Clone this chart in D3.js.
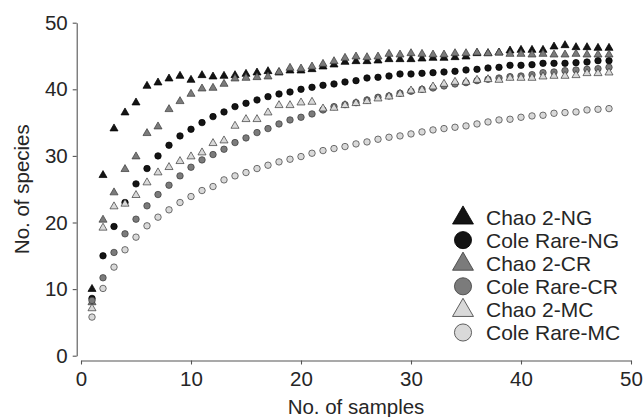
<!DOCTYPE html>
<html>
<head>
<meta charset="utf-8">
<script src="https://cdn.jsdelivr.net/npm/d3@7/dist/d3.min.js"></script>
<style>
  html, body { margin: 0; padding: 0; background: #fff; }
  svg { display: block; font-family: "Liberation Sans", Arial, sans-serif; }
</style>
</head>
<body>
<svg id="chart" width="643" height="417"></svg>
<script>
// Number of pooled samples (1..48)
const samples = d3.range(1, 49);

// Species richness estimates per site and estimator
const chao2NG = [10.0, 27.1, 34.1, 36.5, 38.0, 40.5, 41.0, 41.6, 42.0, 41.4, 42.1, 41.9,
  42.0, 42.1, 42.3, 42.5, 42.7, 42.5, 42.8, 42.8, 43.0, 43.4, 43.7, 44.1,
  44.2, 44.2, 44.3, 44.5, 44.5, 44.5, 44.6, 44.7, 44.7, 44.8, 44.9, 45.4,
  45.4, 45.5, 45.8, 45.9, 45.9, 45.9, 46.4, 46.6, 46.3, 46.3, 46.2, 46.2];
const coleNG = [8.6, 15.0, 19.4, 23.0, 25.8, 28.1, 30.0, 31.6, 33.0, 34.0, 35.0, 35.9,
  36.6, 37.4, 37.9, 38.4, 38.9, 39.3, 39.6, 40.0, 40.3, 40.6, 40.8, 41.1,
  41.3, 41.7, 41.8, 42.0, 42.3, 42.3, 42.4, 42.5, 42.6, 42.7, 42.9, 43.0,
  43.2, 43.3, 43.6, 43.6, 43.7, 43.9, 43.9, 43.9, 44.0, 44.1, 44.3, 44.3];
const chao2CR = [8.0, 20.4, 24.5, 28.0, 29.9, 33.4, 34.4, 37.0, 38.2, 39.3, 40.1, 40.2,
  40.8, 41.6, 41.7, 41.8, 41.9, 42.6, 43.2, 43.1, 43.4, 43.8, 44.2, 44.7,
  44.9, 44.8, 44.9, 45.3, 45.2, 45.4, 45.3, 45.2, 45.2, 45.4, 45.4, 45.5,
  45.4, 45.5, 45.3, 45.3, 45.2, 45.3, 45.2, 45.2, 45.3, 45.2, 45.2, 45.2];
const coleCR = [8.3, 11.7, 15.5, 18.3, 20.5, 22.5, 24.2, 25.6, 27.0, 28.3, 29.4, 30.2,
  31.0, 32.0, 32.7, 33.5, 34.1, 34.8, 35.4, 35.8, 36.3, 36.9, 37.4, 37.7,
  38.0, 38.4, 38.8, 39.0, 39.4, 39.7, 40.0, 40.2, 40.5, 40.8, 41.0, 41.3,
  41.5, 41.7, 41.9, 42.0, 42.2, 42.5, 42.6, 42.8, 42.9, 43.0, 43.1, 43.3];
const chao2MC = [7.1, 19.2, 22.4, 22.8, 24.1, 26.0, 27.5, 28.3, 29.2, 29.9, 30.5, 31.9,
  32.3, 34.5, 35.5, 35.5, 36.5, 37.6, 37.6, 38.0, 38.1, 37.1, 37.2, 37.6,
  37.9, 38.2, 38.6, 38.9, 39.3, 39.8, 39.9, 40.4, 40.8, 41.1, 41.1, 41.4,
  41.5, 41.4, 41.7, 41.7, 41.7, 41.9, 42.0, 42.0, 42.1, 42.4, 42.4, 42.5];
const coleMC = [5.8, 10.1, 13.3, 15.9, 17.8, 19.5, 20.8, 21.9, 23.0, 23.9, 24.8, 25.4,
  26.4, 27.0, 27.5, 28.1, 28.6, 29.1, 29.5, 29.9, 30.4, 30.8, 31.1, 31.4,
  31.8, 32.1, 32.5, 32.8, 33.0, 33.3, 33.6, 33.9, 34.1, 34.3, 34.5, 34.8,
  35.1, 35.4, 35.5, 35.8, 36.0, 36.1, 36.4, 36.5, 36.6, 36.9, 37.0, 37.1];

const seriesNames = ["Chao 2-NG", "Cole Rare-NG", "Chao 2-CR", "Cole Rare-CR", "Chao 2-MC", "Cole Rare-MC"];
const xTicks = [0, 10, 20, 30, 40, 50];
const yTicks = [0, 10, 20, 30, 40, 50];

const series = [
  { name: seriesNames[0], values: chao2NG, shape: "triangle", fill: "#141414", stroke: "#000" },
  { name: seriesNames[1], values: coleNG,  shape: "circle",   fill: "#141414", stroke: "#000" },
  { name: seriesNames[2], values: chao2CR, shape: "triangle", fill: "#7b7b7b", stroke: "#3a3a3a" },
  { name: seriesNames[3], values: coleCR,  shape: "circle",   fill: "#7b7b7b", stroke: "#3a3a3a" },
  { name: seriesNames[4], values: chao2MC, shape: "triangle", fill: "#d9d9d9", stroke: "#3a3a3a" },
  { name: seriesNames[5], values: coleMC,  shape: "circle",   fill: "#d9d9d9", stroke: "#3a3a3a" }
];

const svg = d3.select("#chart");
const x = d3.scaleLinear().domain([0, 50]).range([81, 631]);
const y = d3.scaleLinear().domain([0, 50]).range([355.7, 22.7]);

const textColor = "#262626";
const axisColor = "#555";

// x axis, detached slightly below the plotting area
const xAxis = svg.append("g")
  .attr("transform", "translate(0,360.5)")
  .call(d3.axisBottom(x).tickValues(xTicks).tickSize(4).tickSizeOuter(0).tickPadding(7));
// y axis, detached slightly left of the plotting area
const yAxis = svg.append("g")
  .attr("transform", "translate(76.7,0)")
  .call(d3.axisLeft(y).tickValues(yTicks).tickSize(4).tickSizeOuter(0).tickPadding(5));

[xAxis, yAxis].forEach(g => {
  g.select(".domain").attr("stroke", axisColor).attr("stroke-width", 1.1);
  g.selectAll(".tick line").attr("stroke", axisColor).attr("stroke-width", 1.1);
  g.selectAll(".tick text")
    .attr("fill", textColor)
    .attr("font-size", 20.5)
    .attr("font-family", "Liberation Sans, Arial, sans-serif");
});
xAxis.selectAll(".tick text").attr("dy", "0.71em");

// axis titles
svg.append("text")
  .attr("x", (x(0) + x(50)) / 2)
  .attr("y", 414)
  .attr("text-anchor", "middle")
  .attr("font-size", 20.5)
  .attr("fill", textColor)
  .text("No. of samples");
svg.append("text")
  .attr("transform", `translate(29,${(y(0) + y(50)) / 2}) rotate(-90)`)
  .attr("text-anchor", "middle")
  .attr("font-size", 20.5)
  .attr("fill", textColor)
  .text("No. of species");

const symTri = d3.symbol().type(d3.symbolTriangle);
const symCirc = d3.symbol().type(d3.symbolCircle);
const markPath = (shape, area) => (shape === "triangle" ? symTri.size(area)() : symCirc.size(area)());

// data markers
const plot = svg.append("g");
series.forEach(s => {
  plot.append("g")
    .selectAll("path")
    .data(samples.map((n, i) => ({ n, v: s.values[i] })))
    .join("path")
    .attr("transform", d => `translate(${x(d.n)},${y(d.v)})`)
    .attr("d", markPath(s.shape, s.shape === "triangle" ? 28 : 33))
    .attr("fill", s.fill)
    .attr("stroke", s.stroke)
    .attr("stroke-width", 0.7);
});

// legend
const legend = svg.append("g").attr("transform", "translate(463,217)");
series.forEach((s, i) => {
  const row = legend.append("g").attr("transform", `translate(0,${i * 23.1})`);
  row.append("path")
    .attr("transform", s.shape === "triangle" ? "translate(0,1)" : null)
    .attr("d", markPath(s.shape, s.shape === "triangle" ? 190 : 230))
    .attr("fill", s.fill)
    .attr("stroke", s.stroke)
    .attr("stroke-width", 0.8);
  row.append("text")
    .attr("x", 23)
    .attr("y", 0)
    .attr("dy", "0.36em")
    .attr("font-size", 21)
    .attr("fill", textColor)
    .text(s.name);
});
</script>
</body>
</html>
